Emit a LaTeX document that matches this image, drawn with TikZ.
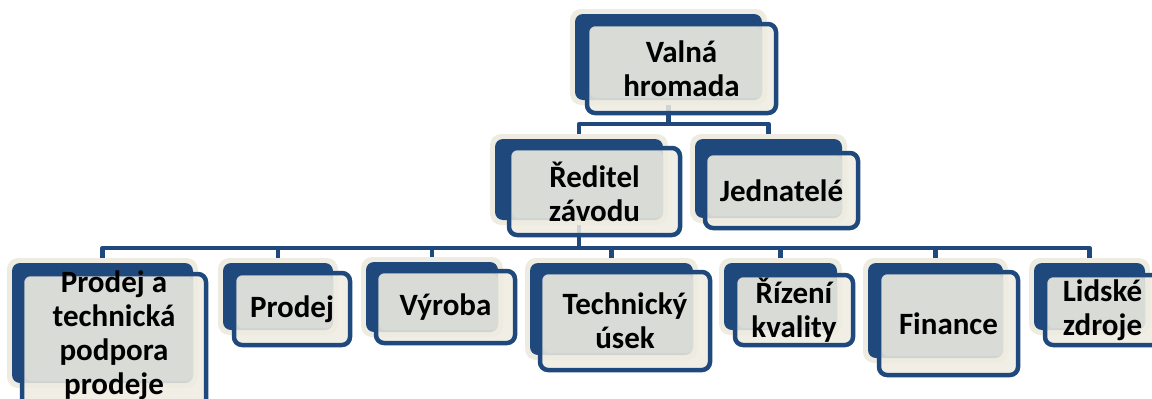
\documentclass[tikz,border=0pt]{standalone}
\usepackage{fontspec}
\setmainfont{Carlito}
\pgfdeclarelayer{background}
\pgfsetlayers{background,main}
\definecolor{orgblue}{RGB}{31,73,125}
\definecolor{orgcream}{RGB}{238,236,225}
\definecolor{orggrey}{RGB}{217,219,214}
\tikzset{
  backbox/.style={rectangle, rounded corners=8pt, fill=orgblue, inner sep=0pt, outer sep=0pt},
  frontbox/.style={rectangle, rounded corners=8pt, fill=orgcream, fill opacity=0.85,
    draw=orgblue, line width=4.5pt, inner sep=0pt, outer sep=0pt},
  halo/.style={fill=orgcream, rounded corners=11pt},
  innerfill/.style={fill=orggrey, rounded corners=6pt},
  lbl/.style={align=center, inner sep=0pt, text=black,
    font=\fontsize{31}{34}\selectfont\bfseries},
  conn/.style={draw=orgblue, line width=4.5pt, line join=round},
}
% #1 name; #2..#5 back box (x1,y1,x2,y2); #6..#9 front box (x1,y1,x2,y2); y measured downwards
\newcommand\orgunit[9]{%
  \fill[halo] (#2-5,-#3+5) rectangle (#4+5,-#5-5);
  \node[backbox, minimum width={(#4-#2)*1pt}, minimum height={(#5-#3)*1pt}]
    (#1) at ({(#2+#4)/2},{-(#3+#5)/2}) {};
  \node[frontbox, minimum width={(#8-#6-4)*1pt}, minimum height={(#9-#7-4)*1pt}]
    (#1f) at ({(#6+#8)/2},{-(#7+#9)/2}) {};
  \fill[innerfill] (#6+5,-#7-5) rectangle (#4,-#5+2);
}
\begin{document}
\begin{tikzpicture}[x=1pt,y=1pt]
\useasboundingbox (0,0) rectangle (1152,-399);
\clip (0,0) rectangle (1152,-399);

% top level
\orgunit{vh}{575}{14}{762}{100}{585}{22}{778}{115}
% second level
\orgunit{rz}{495}{139}{663}{220}{507}{146}{682}{237}
\orgunit{jd}{695}{139}{842}{218}{703}{151}{860}{230}
% departments
\orgunit{pt}{12}{263}{193}{383}{20}{272}{208}{412}
\orgunit{pr}{223}{263}{333}{330}{232}{271}{352}{347}
\orgunit{vy}{366}{262}{498}{332}{374}{269}{517}{345}
\orgunit{tu}{530}{263}{693}{355}{538}{270}{712}{372}
\orgunit{rk}{724}{263}{837}{330}{733}{273}{855}{347}
\orgunit{fi}{868}{263}{1003}{358}{877}{270}{1020}{377}
\orgunit{lz}{1034}{263}{1145}{330}{1043}{273}{1162}{347}

% labels
\node[lbl] (vht) at (vhf) {Valná\\hromada};
\node[lbl] (rzt) at (rzf) {Ředitel\\závodu};
\node[lbl] (jdt) at (jdf) {Jednatelé};
\node[lbl] (ptt) at (114,-335) {Prodej a\\technická\\podpora\\prodeje};
\node[lbl] (prt) at (prf) {Prodej};
\node[lbl] (vyt) at (vyf) {Výroba};
\node[lbl] (tut) at (tuf) {Technický\\úsek};
\node[lbl] (rkt) at (rkf) {Řízení\\kvality};
\node[lbl] (fit) at (fif) {Finance};
\node[lbl] (lzt) at (lzf) {Lidské\\zdroje};

% bus lines
\coordinate (busA) at (0,-124);
\coordinate (busB) at (0,-248);

\begin{pgfonlayer}{background}
  \fill[white] (0,0) rectangle (1152,-399);
  \foreach \c in {rz,jd}
    \draw[conn] (vh.south) |- (\c.north |- busA) -- (\c.north);
  \foreach \c in {pt,pr,vy,tu,rk,fi,lz}
    \draw[conn] (rz.south) |- (\c.north |- busB) -- (\c.north);
\end{pgfonlayer}
\end{tikzpicture}
\end{document}
